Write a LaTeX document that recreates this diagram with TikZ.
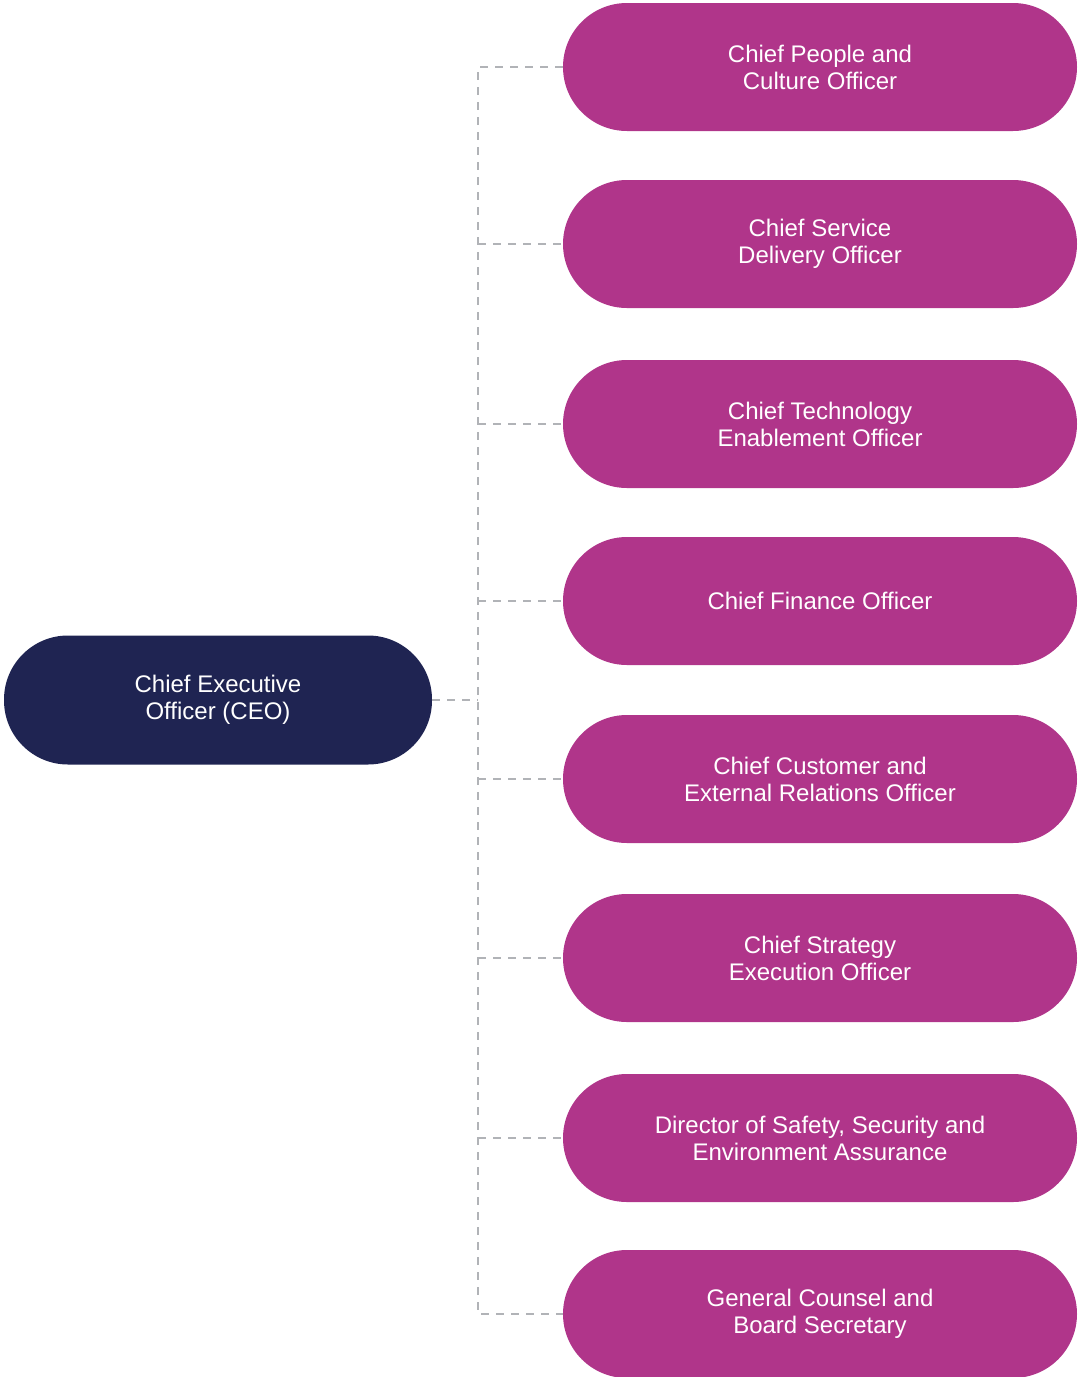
\documentclass[tikz,border=0pt]{standalone}
\usepackage{fontspec}
\setmainfont{Liberation Sans}
\definecolor{navy}{HTML}{1F2452}
\definecolor{plum}{HTML}{B0358A}
\definecolor{linegray}{HTML}{B1B3B7}
\begin{document}
\begin{tikzpicture}[x=0.5pt,y=-0.5pt,
    pill/.style={fill=plum, text=white, align=center, rounded corners=32pt,
        minimum width=257pt, minimum height=64pt, inner sep=0pt,
        font=\fontsize{12}{13.5}\selectfont},
    boss/.style={pill, fill=navy, minimum width=214pt, minimum height=64.5pt},
    link/.style={linegray, line width=1pt, dash pattern=on 4pt off 3.5pt}]
                \useasboundingbox (0,0) rectangle (1078,1377);

                \node[boss] (ceo) at (218,700) {Chief Executive\\Officer (CEO)};

                \node[pill] (people) at (820,67) {Chief People and\\Culture Officer};
                \node[pill] (service) at (820,244) {Chief Service\\Delivery Officer};
                \node[pill] (tech) at (820,424) {Chief Technology\\Enablement Officer};
                \node[pill] (finance) at (820,601) {Chief Finance Officer};
                \node[pill] (customer) at (820,779) {Chief Customer and\\External Relations Officer};
                \node[pill] (strategy) at (820,958) {Chief Strategy\\Execution Officer};
                \node[pill] (safety) at (820,1138) {Director of Safety, Security and\\Environment Assurance};
                \node[pill] (counsel) at (820,1314) {General Counsel and\\Board Secretary};

                \coordinate (bus) at (478,700);
                \draw[link] (ceo.east) -- (bus);
                \draw[link] (people.west) -| (bus) |- (counsel.west);
                \draw[link] (bus |- service) -- (service.west);
                \draw[link] (bus |- tech) -- (tech.west);
                \draw[link] (bus |- finance) -- (finance.west);
                \draw[link] (bus |- customer) -- (customer.west);
                \draw[link] (bus |- strategy) -- (strategy.west);
                \draw[link] (bus |- safety) -- (safety.west);
\end{tikzpicture}
\end{document}
